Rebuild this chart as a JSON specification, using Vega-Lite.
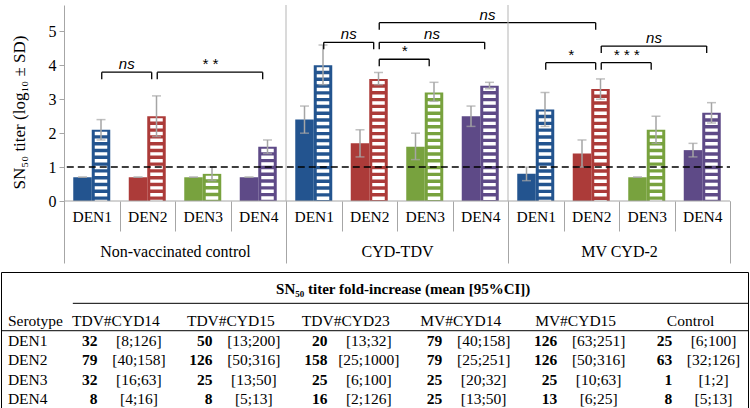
{
  "$schema": "https://vega.github.io/schema/vega-lite/v6.json",
  "padding": {"top": 4, "left": 0, "right": 0, "bottom": 0},
  "background": "white",
  "spacing": 7,
  "config": {"view": {"stroke": null}, "font": "Liberation Serif", "axisY": {"labelOverlap": false, "labelSeparation": 0, "tickCount": 6}},
  "vconcat": [
    {
      "width": 729,
      "height": 196,
      "resolve": {"scale": {"x": "independent"}, "axis": {"x": "independent"}},
      "layer": [
        {
          "data": {"values": [
            {"cat": "Non-vaccinated control|DEN1", "sero": "DEN1", "phase": "pre", "mean": 0.7, "lo": 0.7, "hi": 0.7},
            {"cat": "Non-vaccinated control|DEN1", "sero": "DEN1", "phase": "post", "mean": 2.1, "lo": 1.8, "hi": 2.4},
            {"cat": "Non-vaccinated control|DEN2", "sero": "DEN2", "phase": "pre", "mean": 0.7, "lo": 0.7, "hi": 0.7},
            {"cat": "Non-vaccinated control|DEN2", "sero": "DEN2", "phase": "post", "mean": 2.5, "lo": 1.9, "hi": 3.1},
            {"cat": "Non-vaccinated control|DEN3", "sero": "DEN3", "phase": "pre", "mean": 0.7, "lo": 0.7, "hi": 0.7},
            {"cat": "Non-vaccinated control|DEN3", "sero": "DEN3", "phase": "post", "mean": 0.8, "lo": 0.6, "hi": 1.0},
            {"cat": "Non-vaccinated control|DEN4", "sero": "DEN4", "phase": "pre", "mean": 0.7, "lo": 0.7, "hi": 0.7},
            {"cat": "Non-vaccinated control|DEN4", "sero": "DEN4", "phase": "post", "mean": 1.6, "lo": 1.4, "hi": 1.8},
            {"cat": "CYD-TDV|DEN1", "sero": "DEN1", "phase": "pre", "mean": 2.4, "lo": 2.0, "hi": 2.8},
            {"cat": "CYD-TDV|DEN1", "sero": "DEN1", "phase": "post", "mean": 4.0, "lo": 3.43, "hi": 4.6},
            {"cat": "CYD-TDV|DEN2", "sero": "DEN2", "phase": "pre", "mean": 1.7, "lo": 1.3, "hi": 2.1},
            {"cat": "CYD-TDV|DEN2", "sero": "DEN2", "phase": "post", "mean": 3.6, "lo": 3.43, "hi": 3.79},
            {"cat": "CYD-TDV|DEN3", "sero": "DEN3", "phase": "pre", "mean": 1.6, "lo": 1.22, "hi": 2.0},
            {"cat": "CYD-TDV|DEN3", "sero": "DEN3", "phase": "post", "mean": 3.2, "lo": 2.94, "hi": 3.5},
            {"cat": "CYD-TDV|DEN4", "sero": "DEN4", "phase": "pre", "mean": 2.5, "lo": 2.2, "hi": 2.8},
            {"cat": "CYD-TDV|DEN4", "sero": "DEN4", "phase": "post", "mean": 3.4, "lo": 3.31, "hi": 3.5},
            {"cat": "MV CYD-2|DEN1", "sero": "DEN1", "phase": "pre", "mean": 0.8, "lo": 0.6, "hi": 1.0},
            {"cat": "MV CYD-2|DEN1", "sero": "DEN1", "phase": "post", "mean": 2.7, "lo": 2.2, "hi": 3.2},
            {"cat": "MV CYD-2|DEN2", "sero": "DEN2", "phase": "pre", "mean": 1.4, "lo": 1.0, "hi": 1.8},
            {"cat": "MV CYD-2|DEN2", "sero": "DEN2", "phase": "post", "mean": 3.3, "lo": 3.0, "hi": 3.6},
            {"cat": "MV CYD-2|DEN3", "sero": "DEN3", "phase": "pre", "mean": 0.7, "lo": 0.7, "hi": 0.7},
            {"cat": "MV CYD-2|DEN3", "sero": "DEN3", "phase": "post", "mean": 2.1, "lo": 1.7, "hi": 2.5},
            {"cat": "MV CYD-2|DEN4", "sero": "DEN4", "phase": "pre", "mean": 1.5, "lo": 1.3, "hi": 1.7},
            {"cat": "MV CYD-2|DEN4", "sero": "DEN4", "phase": "post", "mean": 2.6, "lo": 2.3, "hi": 2.9}
          ]},
          "layer": [
            {
              "mark": {"type": "bar"},
              "encoding": {
                "x": {
                  "field": "cat", "type": "nominal", "sort": null,
                  "scale": {"domain": [
                    "Non-vaccinated control|DEN1", "Non-vaccinated control|DEN2", "Non-vaccinated control|DEN3", "Non-vaccinated control|DEN4",
                    "CYD-TDV|DEN1", "CYD-TDV|DEN2", "CYD-TDV|DEN3", "CYD-TDV|DEN4",
                    "MV CYD-2|DEN1", "MV CYD-2|DEN2", "MV CYD-2|DEN3", "MV CYD-2|DEN4"],
                    "paddingInner": 0, "paddingOuter": 0.5676, "align": 1},
                  "axis": {
                    "title": null, "labelExpr": "split(datum.value, '|')[1]",
                    "tickBand": "extent", "tickSize": 30, "tickColor": "#a6a6a6", "tickWidth": 1,
                    "domain": false,
                    "labelPadding": -22, "labelFontSize": 15.5, "labelColor": "black", "labelAngle": 0,
                    "labelFont": "Liberation Serif"
                  }
                },
                "xOffset": {"field": "phase", "type": "nominal", "scale": {"domain": ["pre", "post"], "paddingInner": 0, "paddingOuter": 0.5}},
                "y": {
                  "field": "mean", "type": "quantitative",
                  "scale": {"domain": [0, 5.78], "nice": false, "zero": true},
                  "axis": {
                    "values": [0, 1, 2, 3, 4, 5], "tickCount": 6, "grid": false, "offset": -63,
                    "domain": true, "domainColor": "#a6a6a6", "domainWidth": 1,
                    "tickSize": 5, "tickColor": "#a6a6a6", "tickWidth": 1, "labelOverlap": false,
                    "labelFontSize": 16, "labelColor": "black", "labelPadding": 3, "labelFont": "Liberation Serif",
                    "title": "SN₅₀ titer (log₁₀ ± SD)", "titleFont": "Liberation Serif", "titleFontSize": 17,
                    "titleFontWeight": "normal", "titleColor": "black",
                    "titleX": -45, "titleY": 107, "titleBaseline": "middle", "titleAngle": 270
                  }
                },
                "color": {
                  "field": "sero", "type": "nominal", "legend": null,
                  "scale": {"domain": ["DEN1", "DEN2", "DEN3", "DEN4"], "range": ["#23548f", "#ac3b39", "#78a23e", "#5e4a87"]}
                }
              }
            },
            {
              "transform": [{"filter": "datum.phase == 'post'"}],
              "mark": {"type": "rule", "color": "white", "strokeWidth": 12.5, "strokeDash": [3.4, 3.4], "yOffset": 2, "y2Offset": -2},
              "encoding": {
                "x": {"field": "cat", "type": "nominal"},
                "xOffset": {"field": "phase", "type": "nominal"},
                "y": {"field": "mean", "type": "quantitative"}
              }
            },
            {
              "mark": {"type": "rule", "color": "#a5a5a5", "strokeWidth": 1.5},
              "encoding": {
                "x": {"field": "cat", "type": "nominal"},
                "xOffset": {"field": "phase", "type": "nominal"},
                "y": {"field": "lo", "type": "quantitative"},
                "y2": {"field": "hi"}
              }
            },
            {
              "mark": {"type": "tick", "orient": "horizontal", "color": "#a5a5a5", "size": 9, "thickness": 1.5},
              "encoding": {
                "x": {"field": "cat", "type": "nominal"},
                "xOffset": {"field": "phase", "type": "nominal"},
                "y": {"field": "lo", "type": "quantitative"}
              }
            },
            {
              "mark": {"type": "tick", "orient": "horizontal", "color": "#a5a5a5", "size": 9, "thickness": 1.5},
              "encoding": {
                "x": {"field": "cat", "type": "nominal"},
                "xOffset": {"field": "phase", "type": "nominal"},
                "y": {"field": "hi", "type": "quantitative"}
              }
            },
            {
              "data": {"values": [{"from": "Non-vaccinated control|DEN1", "to": "MV CYD-2|DEN4"}]},
              "mark": {"type": "rule", "color": "#a6a6a6", "strokeWidth": 1},
              "encoding": {
                "x": {"field": "from", "type": "nominal", "bandPosition": 0},
                "x2": {"field": "to", "bandPosition": 1},
                "y": {"datum": 0, "type": "quantitative"}
              }
            },
            {
              "data": {"values": [{"from": "Non-vaccinated control|DEN1", "to": "MV CYD-2|DEN4"}]},
              "mark": {"type": "rule", "color": "black", "strokeWidth": 1.5, "strokeDash": [7, 4]},
              "encoding": {
                "x": {"field": "from", "type": "nominal", "bandPosition": 0.05},
                "x2": {"field": "to", "bandPosition": 1},
                "y": {"datum": 1, "type": "quantitative"}
              }
            },
            {
              "data": {"values": [
                {"from": "Non-vaccinated control|DEN1", "to": "Non-vaccinated control|DEN2", "mid": "Non-vaccinated control|DEN2", "y": 3.8, "label": "ns", "kind": "adj"},
                {"from": "Non-vaccinated control|DEN2", "to": "Non-vaccinated control|DEN4", "mid": "Non-vaccinated control|DEN3", "y": 3.8, "label": "* *", "kind": "span"},
                {"from": "CYD-TDV|DEN1", "to": "CYD-TDV|DEN2", "mid": "CYD-TDV|DEN2", "y": 4.68, "label": "ns", "kind": "adj"},
                {"from": "CYD-TDV|DEN2", "to": "CYD-TDV|DEN3", "mid": "CYD-TDV|DEN3", "y": 4.18, "label": "*", "kind": "adj"},
                {"from": "CYD-TDV|DEN2", "to": "CYD-TDV|DEN4", "mid": "CYD-TDV|DEN3", "y": 4.68, "label": "ns", "kind": "span"},
                {"from": "CYD-TDV|DEN2", "to": "MV CYD-2|DEN2", "mid": "CYD-TDV|DEN4", "y": 5.26, "label": "ns", "kind": "span"},
                {"from": "MV CYD-2|DEN1", "to": "MV CYD-2|DEN2", "mid": "MV CYD-2|DEN2", "y": 4.08, "label": "*", "kind": "adj"},
                {"from": "MV CYD-2|DEN2", "to": "MV CYD-2|DEN3", "mid": "MV CYD-2|DEN3", "y": 4.08, "label": "* * *", "kind": "adj"},
                {"from": "MV CYD-2|DEN2", "to": "MV CYD-2|DEN4", "mid": "MV CYD-2|DEN3", "y": 4.57, "label": "ns", "kind": "span"}
              ]},
              "layer": [
                {
                  "mark": {"type": "rule", "color": "black", "strokeWidth": 1.3},
                  "encoding": {
                    "x": {"field": "from", "type": "nominal", "bandPosition": 0.68},
                    "x2": {"field": "to", "bandPosition": 0.58},
                    "y": {"field": "y", "type": "quantitative"}
                  }
                },
                {
                  "mark": {"type": "rule", "color": "black", "strokeWidth": 1.3, "y2Offset": 7},
                  "encoding": {
                    "x": {"field": "from", "type": "nominal", "bandPosition": 0.68},
                    "y": {"field": "y", "type": "quantitative"},
                    "y2": {"field": "y"}
                  }
                },
                {
                  "mark": {"type": "rule", "color": "black", "strokeWidth": 1.3, "y2Offset": 7},
                  "encoding": {
                    "x": {"field": "to", "type": "nominal", "bandPosition": 0.58},
                    "y": {"field": "y", "type": "quantitative"},
                    "y2": {"field": "y"}
                  }
                },
                {
                  "transform": [{"filter": "datum.kind == 'adj'"}],
                  "mark": {"type": "text", "font": "Liberation Sans", "fontStyle": "italic", "fontSize": 15, "baseline": "alphabetic", "dy": -3, "color": "black"},
                  "encoding": {
                    "x": {"field": "mid", "type": "nominal", "bandPosition": 0.13},
                    "y": {"field": "y", "type": "quantitative"},
                    "text": {"field": "label"}
                  }
                },
                {
                  "transform": [{"filter": "datum.kind == 'span'"}],
                  "mark": {"type": "text", "font": "Liberation Sans", "fontStyle": "italic", "fontSize": 15, "baseline": "alphabetic", "dy": -3, "color": "black"},
                  "encoding": {
                    "x": {"field": "mid", "type": "nominal", "bandPosition": 0.63},
                    "y": {"field": "y", "type": "quantitative"},
                    "text": {"field": "label"}
                  }
                }
              ]
            }
          ]
        },
        {
          "data": {"values": [{"group": "Non-vaccinated control"}, {"group": "CYD-TDV"}, {"group": "MV CYD-2"}]},
          "transform": [{"filter": "datum.group != 'Non-vaccinated control'"}],
          "mark": {"type": "rule", "color": "#b5b5b5", "strokeWidth": 1},
          "encoding": {
            "x": {
              "field": "group", "type": "nominal", "bandPosition": 0, "sort": null,
              "scale": {"domain": ["Non-vaccinated control", "CYD-TDV", "MV CYD-2"], "paddingInner": 0, "paddingOuter": 0.1419, "align": 1},
              "axis": {
                "orient": "bottom", "title": null,
                "tickBand": "extent", "tickSize": 62, "tickColor": "#a6a6a6", "tickWidth": 1,
                "domain": false, "labelPadding": -20, "labelFontSize": 16, "labelColor": "black",
                "labelFont": "Liberation Serif", "labelAngle": 0
              }
            }
          }
        }
      ]
    },
    {
      "width": 747,
      "height": 137,
      "view": {"stroke": "black", "strokeWidth": 1},
      "data": {"values": [
        {"row": "title", "col": "TDV#CYD23 CI", "text": "SN₅₀ titer fold-increase (mean [95%CI])", "kind": "title"},
        {"row": "header", "col": "Serotype", "text": "Serotype", "kind": "rowhead"},
        {"row": "header", "col": "TDV#CYD14", "text": "TDV#CYD14", "kind": "colhead"},
        {"row": "header", "col": "TDV#CYD15", "text": "TDV#CYD15", "kind": "colhead"},
        {"row": "header", "col": "TDV#CYD23", "text": "TDV#CYD23", "kind": "colhead"},
        {"row": "header", "col": "MV#CYD14", "text": "MV#CYD14", "kind": "colhead"},
        {"row": "header", "col": "MV#CYD15", "text": "MV#CYD15", "kind": "colhead"},
        {"row": "header", "col": "Control", "text": "Control", "kind": "colhead"},
        {"row": "DEN1", "col": "Serotype", "text": "DEN1", "kind": "rowhead"},
        {"row": "DEN2", "col": "Serotype", "text": "DEN2", "kind": "rowhead"},
        {"row": "DEN3", "col": "Serotype", "text": "DEN3", "kind": "rowhead"},
        {"row": "DEN4", "col": "Serotype", "text": "DEN4", "kind": "rowhead"},
        {"row": "DEN1", "col": "TDV#CYD14", "text": "32", "kind": "mean"},
        {"row": "DEN1", "col": "TDV#CYD14 CI", "text": "[8;126]", "kind": "ci"},
        {"row": "DEN1", "col": "TDV#CYD15", "text": "50", "kind": "mean"},
        {"row": "DEN1", "col": "TDV#CYD15 CI", "text": "[13;200]", "kind": "ci"},
        {"row": "DEN1", "col": "TDV#CYD23", "text": "20", "kind": "mean"},
        {"row": "DEN1", "col": "TDV#CYD23 CI", "text": "[13;32]", "kind": "ci"},
        {"row": "DEN1", "col": "MV#CYD14", "text": "79", "kind": "mean"},
        {"row": "DEN1", "col": "MV#CYD14 CI", "text": "[40;158]", "kind": "ci"},
        {"row": "DEN1", "col": "MV#CYD15", "text": "126", "kind": "mean"},
        {"row": "DEN1", "col": "MV#CYD15 CI", "text": "[63;251]", "kind": "ci"},
        {"row": "DEN1", "col": "Control", "text": "25", "kind": "mean"},
        {"row": "DEN1", "col": "Control CI", "text": "[6;100]", "kind": "ci"},
        {"row": "DEN2", "col": "TDV#CYD14", "text": "79", "kind": "mean"},
        {"row": "DEN2", "col": "TDV#CYD14 CI", "text": "[40;158]", "kind": "ci"},
        {"row": "DEN2", "col": "TDV#CYD15", "text": "126", "kind": "mean"},
        {"row": "DEN2", "col": "TDV#CYD15 CI", "text": "[50;316]", "kind": "ci"},
        {"row": "DEN2", "col": "TDV#CYD23", "text": "158", "kind": "mean"},
        {"row": "DEN2", "col": "TDV#CYD23 CI", "text": "[25;1000]", "kind": "ci"},
        {"row": "DEN2", "col": "MV#CYD14", "text": "79", "kind": "mean"},
        {"row": "DEN2", "col": "MV#CYD14 CI", "text": "[25;251]", "kind": "ci"},
        {"row": "DEN2", "col": "MV#CYD15", "text": "126", "kind": "mean"},
        {"row": "DEN2", "col": "MV#CYD15 CI", "text": "[50;316]", "kind": "ci"},
        {"row": "DEN2", "col": "Control", "text": "63", "kind": "mean"},
        {"row": "DEN2", "col": "Control CI", "text": "[32;126]", "kind": "ci"},
        {"row": "DEN3", "col": "TDV#CYD14", "text": "32", "kind": "mean"},
        {"row": "DEN3", "col": "TDV#CYD14 CI", "text": "[16;63]", "kind": "ci"},
        {"row": "DEN3", "col": "TDV#CYD15", "text": "25", "kind": "mean"},
        {"row": "DEN3", "col": "TDV#CYD15 CI", "text": "[13;50]", "kind": "ci"},
        {"row": "DEN3", "col": "TDV#CYD23", "text": "25", "kind": "mean"},
        {"row": "DEN3", "col": "TDV#CYD23 CI", "text": "[6;100]", "kind": "ci"},
        {"row": "DEN3", "col": "MV#CYD14", "text": "25", "kind": "mean"},
        {"row": "DEN3", "col": "MV#CYD14 CI", "text": "[20;32]", "kind": "ci"},
        {"row": "DEN3", "col": "MV#CYD15", "text": "25", "kind": "mean"},
        {"row": "DEN3", "col": "MV#CYD15 CI", "text": "[10;63]", "kind": "ci"},
        {"row": "DEN3", "col": "Control", "text": "1", "kind": "mean"},
        {"row": "DEN3", "col": "Control CI", "text": "[1;2]", "kind": "ci"},
        {"row": "DEN4", "col": "TDV#CYD14", "text": "8", "kind": "mean"},
        {"row": "DEN4", "col": "TDV#CYD14 CI", "text": "[4;16]", "kind": "ci"},
        {"row": "DEN4", "col": "TDV#CYD15", "text": "8", "kind": "mean"},
        {"row": "DEN4", "col": "TDV#CYD15 CI", "text": "[5;13]", "kind": "ci"},
        {"row": "DEN4", "col": "TDV#CYD23", "text": "16", "kind": "mean"},
        {"row": "DEN4", "col": "TDV#CYD23 CI", "text": "[2;126]", "kind": "ci"},
        {"row": "DEN4", "col": "MV#CYD14", "text": "25", "kind": "mean"},
        {"row": "DEN4", "col": "MV#CYD14 CI", "text": "[13;50]", "kind": "ci"},
        {"row": "DEN4", "col": "MV#CYD15", "text": "13", "kind": "mean"},
        {"row": "DEN4", "col": "MV#CYD15 CI", "text": "[6;25]", "kind": "ci"},
        {"row": "DEN4", "col": "Control", "text": "8", "kind": "mean"},
        {"row": "DEN4", "col": "Control CI", "text": "[5;13]", "kind": "ci"}
      ]},
      "layer": [
        {
          "transform": [{"filter": "datum.kind == 'title'"}],
          "mark": {"type": "text", "fontSize": 15, "fontWeight": "bold", "align": "center", "baseline": "middle", "color": "black"},
          "encoding": {
            "x": {"field": "col", "type": "nominal", "bandPosition": 1, "sort": null, "axis": null,
              "scale": {"domain": ["Serotype", "TDV#CYD14", "TDV#CYD14 CI", "TDV#CYD15", "TDV#CYD15 CI", "TDV#CYD23", "TDV#CYD23 CI", "MV#CYD14", "MV#CYD14 CI", "MV#CYD15", "MV#CYD15 CI", "Control", "Control CI"], "paddingInner": 0, "paddingOuter": 0}},
            "y": {"field": "row", "type": "nominal", "bandPosition": 0.85, "sort": null, "axis": null,
              "scale": {"domain": ["title", "gap", "header", "DEN1", "DEN2", "DEN3", "DEN4"], "paddingInner": 0, "paddingOuter": 0}},
            "text": {"field": "text"}
          }
        },
        {
          "transform": [{"filter": "datum.kind == 'rowhead'"}],
          "mark": {"type": "text", "fontSize": 15.5, "align": "left", "baseline": "middle", "color": "black"},
          "encoding": {
            "x": {"field": "col", "type": "nominal", "bandPosition": 0.12, "axis": null},
            "y": {"field": "row", "type": "nominal", "axis": null},
            "text": {"field": "text"}
          }
        },
        {
          "transform": [{"filter": "datum.kind == 'colhead'"}],
          "mark": {"type": "text", "fontSize": 15.5, "align": "center", "baseline": "middle", "color": "black"},
          "encoding": {
            "x": {"field": "col", "type": "nominal", "bandPosition": 1, "axis": null},
            "y": {"field": "row", "type": "nominal", "axis": null},
            "text": {"field": "text"}
          }
        },
        {
          "transform": [{"filter": "datum.kind == 'mean'"}],
          "mark": {"type": "text", "fontSize": 15.5, "fontWeight": "bold", "align": "right", "baseline": "middle", "color": "black"},
          "encoding": {
            "x": {"field": "col", "type": "nominal", "bandPosition": 0.68, "axis": null},
            "y": {"field": "row", "type": "nominal", "axis": null},
            "text": {"field": "text"}
          }
        },
        {
          "transform": [{"filter": "datum.kind == 'ci'"}],
          "mark": {"type": "text", "fontSize": 15.5, "align": "center", "baseline": "middle", "color": "black"},
          "encoding": {
            "x": {"field": "col", "type": "nominal", "bandPosition": 0.4, "axis": null},
            "y": {"field": "row", "type": "nominal", "axis": null},
            "text": {"field": "text"}
          }
        },
        {
          "data": {"values": [{"from": "TDV#CYD14", "to": "Control CI", "row": "gap"}]},
          "mark": {"type": "rule", "color": "black", "strokeWidth": 1},
          "encoding": {
            "x": {"field": "from", "type": "nominal", "bandPosition": 0.25, "axis": null},
            "x2": {"field": "to", "bandPosition": 1},
            "y": {"field": "row", "type": "nominal", "bandPosition": 0.6, "axis": null}
          }
        },
        {
          "data": {"values": [{"row": "DEN1"}]},
          "mark": {"type": "rule", "color": "black", "strokeWidth": 1},
          "encoding": {
            "y": {"field": "row", "type": "nominal", "bandPosition": 0, "axis": null}
          }
        }
      ]
    }
  ]
}
